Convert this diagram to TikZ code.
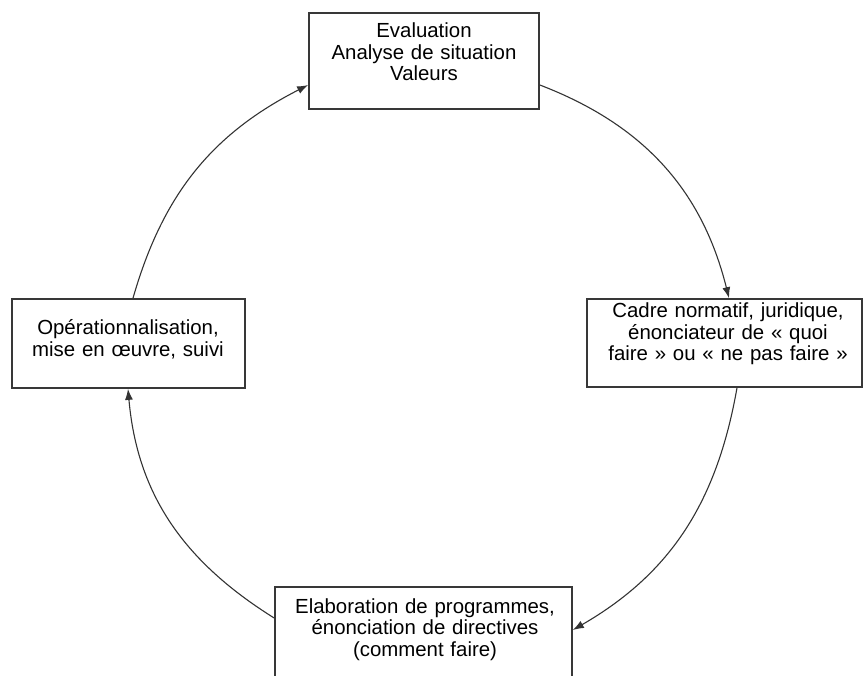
\documentclass[tikz,border=0pt]{standalone}
\usepackage{fontspec}
\setmainfont{Liberation Sans}
\usetikzlibrary{arrows.meta,calc}
\begin{document}
\begin{tikzpicture}[x=1pt,y=1pt,
  box/.style={draw=black!78, line width=1.7pt, fill=white, inner sep=0pt},
  lbl/.style={inner sep=0pt, align=center, font=\fontsize{20.4}{21.5}\selectfont, anchor=base},
  link/.style={draw=black!80, line width=1.1pt, -{Latex[length=11pt,width=8pt]}}]
\clip (0,0) rectangle (863,-676);
\fill[white] (0,0) rectangle (863,-676);
% boxes
\node[box, minimum width=230pt, minimum height=96pt] (top) at (424,-61) {};
\node[box, minimum width=275pt, minimum height=88pt] (right) at (724.5,-343) {};
\node[box, minimum width=233pt, minimum height=89pt] (left) at (128.5,-343.5) {};
\node[box, minimum width=297pt, minimum height=133pt] (bottom) at (423.5,-653.5) {};
% texts
\node[lbl, text width=230pt] (toplbl) at (424,-38) {Evaluation\\Analyse de situation\\Valeurs};
\node[lbl, text width=275pt] (rightlbl) at (728,-318) {Cadre normatif, juridique,\\énonciateur de « quoi\\faire » ou « ne pas faire »};
\node[lbl, text width=233pt] (leftlbl) at (128,-335) {Opérationnalisation,\\mise en œuvre, suivi};
\node[lbl, text width=297pt] (bottomlbl) at (425,-613) {Elaboration de programmes,\\énonciation de directives\\(comment faire)};
% connector ends
\coordinate (a1s) at ([yshift=-24pt]top.east);
\coordinate (a1e) at ([xshift=4.5pt]right.north);
\coordinate (a2s) at ([xshift=12.5pt]right.south);
\coordinate (a2e) at ([yshift=23.5pt]bottom.east);
\coordinate (a3s) at ([yshift=35.5pt]bottom.west);
\coordinate (a3e) at ([xshift=-0.5pt]left.south);
\coordinate (a4s) at ([xshift=4.5pt]left.north);
\coordinate (a4e) at ([yshift=-24pt]top.west);
% connectors
\draw[link] (a1s) to[out=-21,in=104] (a1e);
\draw[link] (a2s) to[out=-100,in=30] (a2e);
\draw[link] (a3s) to[out=148,in=-85] (a3e);
\draw[link] (a4s) to[out=74,in=207] (a4e);
\end{tikzpicture}
\end{document}
